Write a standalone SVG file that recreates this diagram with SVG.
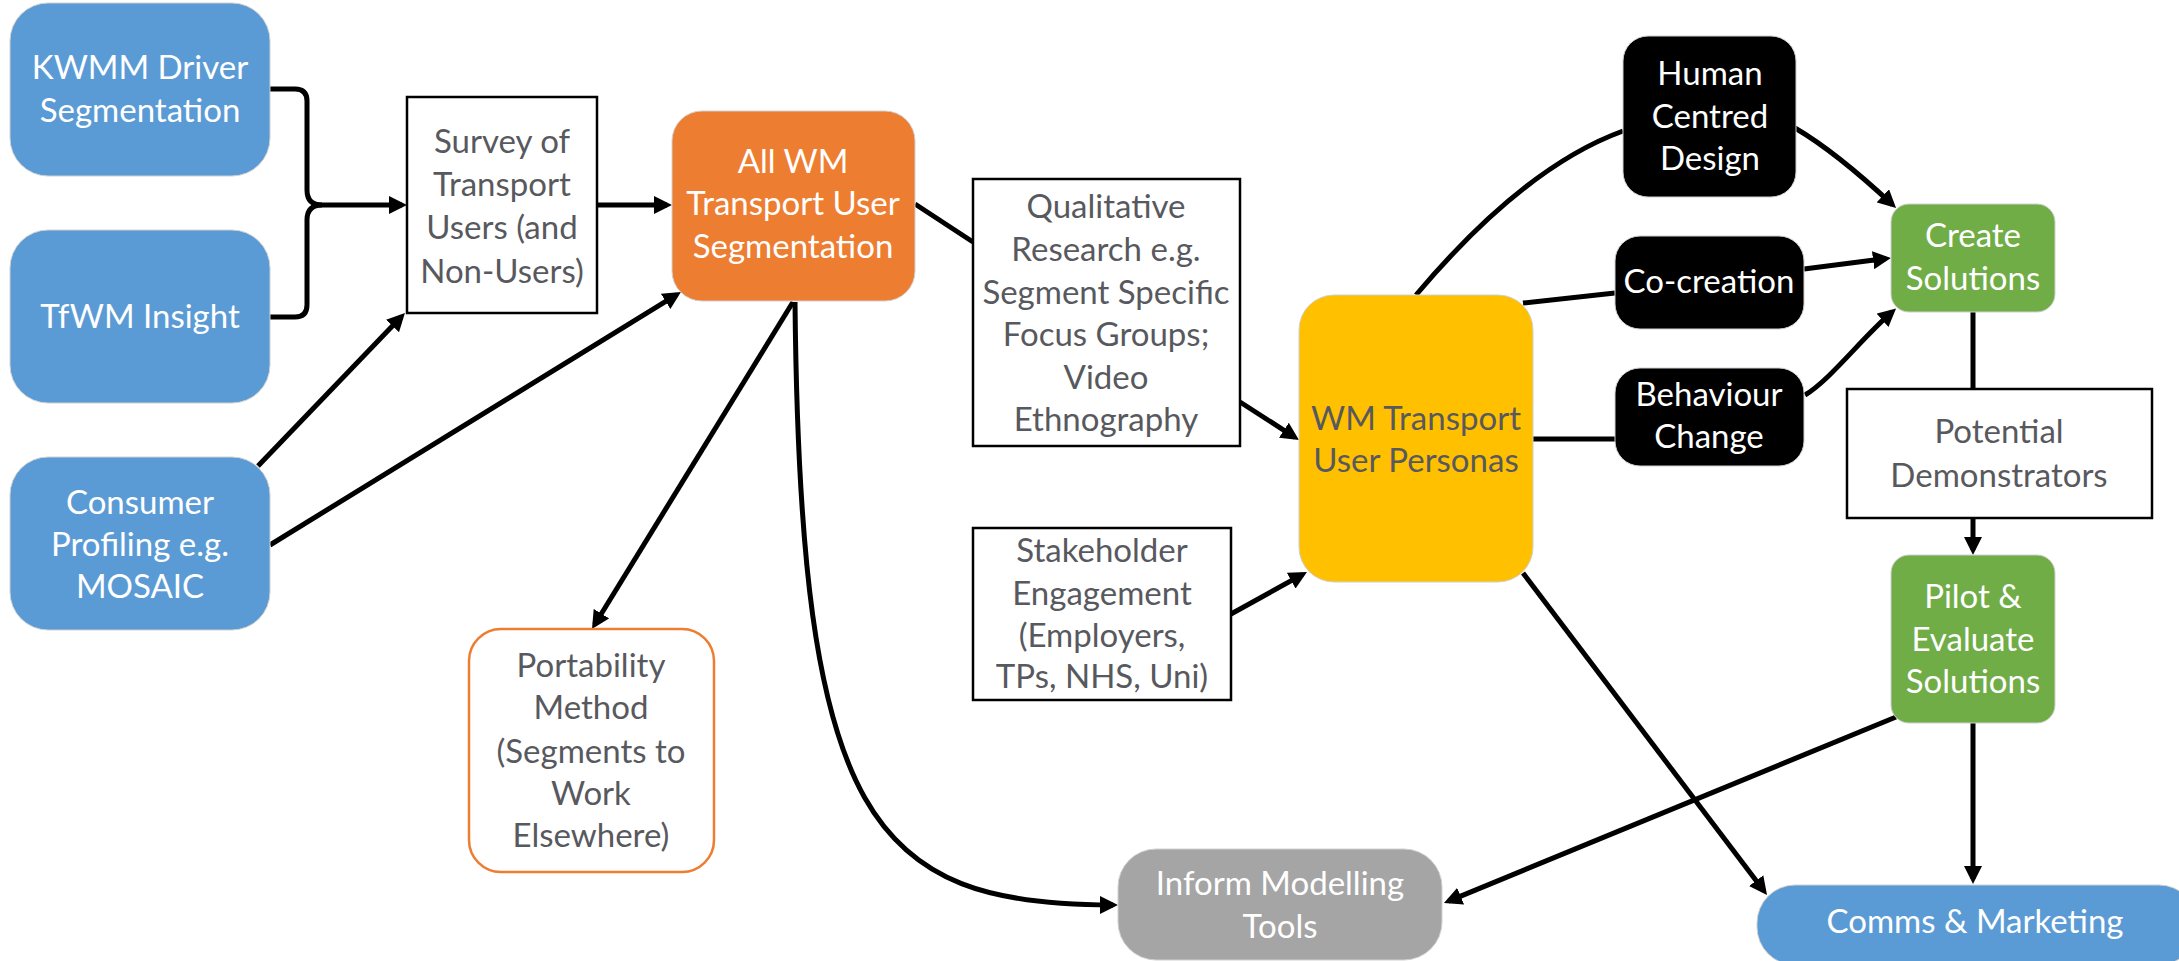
<svg xmlns="http://www.w3.org/2000/svg" width="2179" height="961" viewBox="0 0 2179 961">
<style>
  text { font-family: Lato, "Liberation Sans", "DejaVu Sans", sans-serif; font-size: 33px; text-anchor: middle; }
  .w { fill: #ffffff; }
  .d { fill: #58595e; }
  .blue { fill: #5B9BD5; stroke: #d0d0d0; stroke-width: 1; }
  .orange { fill: #ED7D31; stroke: #d0d0d0; stroke-width: 1; }
  .yellow { fill: #FFC000; stroke: #d0d0d0; stroke-width: 1; }
  .green { fill: #70AD47; stroke: #d0d0d0; stroke-width: 1; }
  .gray { fill: #A5A5A5; stroke: #d0d0d0; stroke-width: 1; }
  .black { fill: #000000; stroke: #d0d0d0; stroke-width: 1; }
  .plain { fill: #ffffff; stroke: #000000; stroke-width: 2.5; }
  .port { fill: #ffffff; stroke: #ED7D31; stroke-width: 2.5; }
  .c { fill: none; stroke: #000000; stroke-width: 5; }
  .a { marker-end: url(#ah); }
</style>
<defs>
  <marker id="ah" markerUnits="userSpaceOnUse" markerWidth="18" markerHeight="18" viewBox="0 0 18 18" refX="13" refY="9" orient="auto">
    <path d="M0,0 L18,9 L0,18 z" fill="#000000"/>
  </marker>
</defs>
<rect width="2179" height="961" fill="#ffffff"/>

<g id="connectors">
  <path class="c a" d="M270,89 H295 Q307,89 307,101 V190 Q307,205 322,205 H402"/>
  <path class="c" d="M270,317 H295 Q307,317 307,305 V220 Q307,205 322,205"/>
  <path class="c a" d="M597,205 H667"/>
  <path class="c a" d="M258,466 L401.5,316.6"/>
  <path class="c a" d="M270,545 L676.7,294.6"/>
  <path class="c a" d="M793,302 L594.6,624.7"/>
  <path class="c a" d="M795,302 C800,820 870,905 1113,905"/>
  <path class="c" d="M915,204 L973,242"/>
  <path class="c a" d="M1240,402 L1294.8,437.3"/>
  <path class="c a" d="M1231,614 L1302.6,574.4"/>
  <path class="c" d="M1416,295 Q1524,167 1623,131"/>
  <path class="c" d="M1523,303 L1615,293"/>
  <path class="c a" d="M1804,269 L1886,258.6"/>
  <path class="c a" d="M1795,128 Q1836,152 1892.4,204.6"/>
  <path class="c a" d="M1805,395 C1830,380 1860,340 1892.3,311.7"/>
  <path class="c" d="M1533,439 H1615"/>
  <path class="c" d="M1973,312 V389"/>
  <path class="c a" d="M1973,518 V550"/>
  <path class="c a" d="M1973,723 V879"/>
  <path class="c a" d="M1523,573 L1764,891"/>
  <path class="c a" d="M1896,717 L1448.6,901.1"/>
</g>

<g id="kwmm">
  <rect class="blue" x="10" y="3" width="260" height="173" rx="38"/>
  <text class="w" x="140" y="79">KWMM Driver</text>
  <text class="w" x="140" y="122">Segmentation</text>
</g>
<g id="tfwm">
  <rect class="blue" x="10" y="230" width="260" height="173" rx="38"/>
  <text class="w" x="140" y="328">TfWM Insight</text>
</g>
<g id="consumer">
  <rect class="blue" x="10" y="457" width="260" height="173" rx="38"/>
  <text class="w" x="140" y="514">Consumer</text>
  <text class="w" x="140" y="556">Profiling e.g.</text>
  <text class="w" x="140" y="598">MOSAIC</text>
</g>
<g id="survey">
  <rect class="plain" x="407" y="97" width="190" height="216"/>
  <text class="d" x="502" y="153">Survey of</text>
  <text class="d" x="502" y="196">Transport</text>
  <text class="d" x="502" y="239">Users (and</text>
  <text class="d" x="502" y="283">Non-Users)</text>
</g>
<g id="allwm">
  <rect class="orange" x="672" y="111" width="243" height="190" rx="30"/>
  <text class="w" x="793" y="173">All WM</text>
  <text class="w" x="793" y="215">Transport User</text>
  <text class="w" x="793" y="258">Segmentation</text>
</g>
<g id="qualitative">
  <rect class="plain" x="973" y="179" width="267" height="267"/>
  <text class="d" x="1106" y="218">Qualitative</text>
  <text class="d" x="1106" y="261">Research e.g.</text>
  <text class="d" x="1106" y="304">Segment Specific</text>
  <text class="d" x="1106" y="346">Focus Groups;</text>
  <text class="d" x="1106" y="389">Video</text>
  <text class="d" x="1106" y="431">Ethnography</text>
</g>
<g id="personas">
  <rect class="yellow" x="1299" y="295" width="234" height="287" rx="35"/>
  <text class="d" x="1416" y="430">WM Transport</text>
  <text class="d" x="1416" y="472">User Personas</text>
</g>
<g id="stakeholder">
  <rect class="plain" x="973" y="528" width="258" height="172"/>
  <text class="d" x="1102" y="562">Stakeholder</text>
  <text class="d" x="1102" y="605">Engagement</text>
  <text class="d" x="1102" y="647">(Employers,</text>
  <text class="d" x="1102" y="688">TPs, NHS, Uni)</text>
</g>
<g id="portability">
  <rect class="port" x="469" y="629" width="245" height="243" rx="32"/>
  <text class="d" x="591" y="677">Portability</text>
  <text class="d" x="591" y="719">Method</text>
  <text class="d" x="591" y="763">(Segments to</text>
  <text class="d" x="591" y="805">Work</text>
  <text class="d" x="591" y="847">Elsewhere)</text>
</g>
<g id="inform">
  <rect class="gray" x="1118" y="849" width="324" height="111" rx="38"/>
  <text class="w" x="1280" y="895">Inform Modelling</text>
  <text class="w" x="1280" y="938">Tools</text>
</g>
<g id="human">
  <rect class="black" x="1623" y="36" width="173" height="161" rx="25"/>
  <text class="w" x="1710" y="85">Human</text>
  <text class="w" x="1710" y="128">Centred</text>
  <text class="w" x="1710" y="170">Design</text>
</g>
<g id="cocreation">
  <rect class="black" x="1615" y="236" width="189" height="93" rx="25"/>
  <text class="w" x="1709" y="293">Co-creation</text>
</g>
<g id="behaviour">
  <rect class="black" x="1615" y="368" width="189" height="98" rx="25"/>
  <text class="w" x="1709" y="406">Behaviour</text>
  <text class="w" x="1709" y="448">Change</text>
</g>
<g id="create">
  <rect class="green" x="1891" y="204" width="164" height="108" rx="18"/>
  <text class="w" x="1973" y="247">Create</text>
  <text class="w" x="1973" y="290">Solutions</text>
</g>
<g id="potential">
  <rect class="plain" x="1847" y="389" width="305" height="129"/>
  <text class="d" x="1999" y="443">Potential</text>
  <text class="d" x="1999" y="487">Demonstrators</text>
</g>
<g id="pilot">
  <rect class="green" x="1891" y="555" width="164" height="168" rx="18"/>
  <text class="w" x="1973" y="608">Pilot &amp;</text>
  <text class="w" x="1973" y="651">Evaluate</text>
  <text class="w" x="1973" y="693">Solutions</text>
</g>
<g id="comms">
  <rect class="blue" x="1757" y="885" width="440" height="80" rx="38"/>
  <text class="w" x="1975" y="933">Comms &amp; Marketing</text>
</g>
</svg>
